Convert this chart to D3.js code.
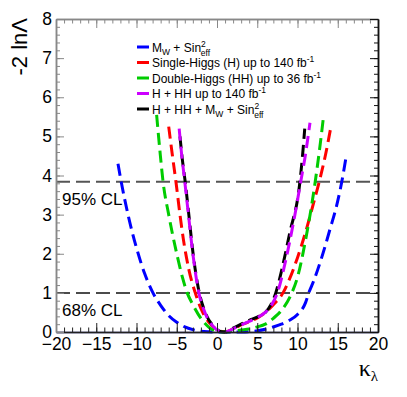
<!DOCTYPE html>
<html>
<head>
<meta charset="utf-8">
<script src="https://cdn.jsdelivr.net/npm/d3@7"></script>
<style>
  body { margin: 0; background: #fff; }
  svg { display: block; font-family: "Liberation Sans", Arial, Helvetica, sans-serif; }
</style>
</head>
<body>
<div id="chart"></div>
<script>
// kappa_lambda scan points and -2 ln(Lambda) values
const kappaMw = [-12.3, -11.9, -11, -10, -9, -8, -7, -6, -5, -4, -3, -2, -1, 0, 1, 2, 3, 4, 5, 6, 7, 8, 9, 10, 11, 11.4, 12, 13, 14, 15, 15.5, 16];
const nllMw   = [4.3, 3.84, 2.95, 2.15, 1.5, 1.02, 0.68, 0.42, 0.25, 0.13, 0.06, 0.02, 0.005, 0, 0, 0, 0.002, 0.01, 0.03, 0.07, 0.13, 0.2, 0.3, 0.45, 0.75, 1.0, 1.3, 1.9, 2.6, 3.35, 3.84, 4.43];

const kappaH = [-6.0, -5.5, -5.1, -4.6, -4.2, -3.5, -2.7, -2, -1, 0, 1, 2, 3, 4, 5, 6, 7, 8.2, 9, 10, 11, 12, 12.7, 13.5, 14.2];
const nllH   = [5.25, 4.45, 3.84, 3.0, 2.4, 1.6, 1.0, 0.6, 0.25, 0.06, 0, 0.08, 0.18, 0.26, 0.36, 0.5, 0.7, 1.0, 1.35, 1.9, 2.55, 3.3, 3.84, 4.55, 5.3];

const kappaHH = [-7.5, -7.1, -6.7, -6, -5, -4.3, -3.7, -3, -2, -1, 0, 1, 2, 3, 4, 5, 6, 7, 8, 9.3, 10, 11, 12.2, 12.7, 13.2];
const nllHH   = [5.55, 4.65, 3.84, 3.0, 2.0, 1.4, 1.0, 0.7, 0.35, 0.12, 0.02, 0, 0.02, 0.05, 0.08, 0.13, 0.2, 0.35, 0.55, 1.0, 1.4, 2.35, 3.84, 4.6, 5.45];

const kappaComb = [-4.7, -4.4, -4.0, -3.6, -3, -2.3, -1.5, -0.5, 0.5, 1, 2, 3, 4, 5, 6, 6.8, 7.5, 8.5, 9.5, 10.4, 11, 11.55];
const nllComb   = [5.2, 4.55, 3.84, 3.1, 2.0, 1.05, 0.5, 0.15, 0.01, 0, 0.08, 0.18, 0.27, 0.37, 0.5, 0.7, 1.0, 1.8, 2.8, 3.84, 4.55, 5.35];

const kappaAll = [-4.6, -4.3, -3.95, -3.5, -3, -2.3, -1.5, -0.5, 0.5, 1, 2, 3, 4, 5, 6, 6.7, 7.3, 8, 9, 10.3, 10.6, 10.9];
const nllAll   = [5.0, 4.4, 3.84, 3.0, 2.05, 1.1, 0.52, 0.16, 0.01, 0, 0.1, 0.2, 0.3, 0.38, 0.5, 0.7, 1.0, 1.55, 2.5, 3.84, 4.45, 5.2];

const clLevels = [3.84, 1];
const clLabels = ["95% CL", "68% CL"];

const xTicks = [-20, -15, -10, -5, 0, 5, 10, 15, 20];
const yTicks = [0, 1, 2, 3, 4, 5, 6, 7, 8];

const series = [
  { k: kappaMw,   v: nllMw,   color: "#0000ff" },
  { k: kappaH,    v: nllH,    color: "#ff0000" },
  { k: kappaHH,   v: nllHH,   color: "#00cc00" },
  { k: kappaComb, v: nllComb, color: "#cc00ff" },
  { k: kappaAll,  v: nllAll,  color: "#000000" }
];
// black goes under the violet one
const drawOrder = [0, 1, 2, 4, 3];

const W = 407, H = 397;
const m = { left: 56, right: 378, top: 19, bottom: 332 };

const svg = d3.select("#chart").append("svg")
  .attr("width", W)
  .attr("height", H);

const x = d3.scaleLinear().domain([-20, 20]).range([m.left, m.right]);
const y = d3.scaleLinear().domain([0, 8]).range([m.bottom, m.top]);

// confidence level lines
clLevels.forEach((lv, i) => {
  svg.append("line")
    .attr("x1", x(-20)).attr("x2", x(20))
    .attr("y1", y(lv)).attr("y2", y(lv))
    .attr("stroke", i === 0 ? "#555" : "#111")
    .attr("stroke-width", i === 0 ? 2 : 1.5)
    .attr("stroke-dasharray", "14,6");
  svg.append("text")
    .attr("x", 62)
    .attr("y", y(lv) + 23)
    .attr("font-size", 17)
    .text(clLabels[i]);
});

// curves
const line = d3.line()
  .x(d => x(d[0]))
  .y(d => y(d[1]))
  .curve(d3.curveMonotoneX);

drawOrder.forEach(i => {
  const s = series[i];
  svg.append("path")
    .datum(d3.zip(s.k, s.v))
    .attr("fill", "none")
    .attr("stroke", s.color)
    .attr("stroke-width", 3)
    .attr("stroke-dasharray", "12,6")
    .attr("d", line);
});

// axes: major + minor ticks pointing inward
function styleAxis(g, col) {
  g.selectAll("path").attr("stroke", col).attr("stroke-width", 1.5);
  g.selectAll("line").attr("stroke", col);
  g.selectAll("text").attr("fill", "#000").attr("font-size", 17.5)
    .attr("font-family", "Liberation Sans, Arial, sans-serif");
}

const xb = svg.append("g").attr("transform", `translate(0,${m.bottom})`)
  .call(d3.axisBottom(x).tickValues(xTicks).tickSize(-9).tickPadding(6).tickSizeOuter(0));
styleAxis(xb, "#222");
xb.select("path").attr("stroke", "#1a1a70");
const xbm = svg.append("g").attr("transform", `translate(0,${m.bottom})`)
  .call(d3.axisBottom(x).tickValues(d3.range(-20, 21, 1)).tickSize(-4.5).tickFormat("").tickSizeOuter(0));
styleAxis(xbm, "#222");

const xt = svg.append("g").attr("transform", `translate(0,${m.top})`)
  .call(d3.axisTop(x).tickValues(xTicks).tickSize(-9).tickFormat("").tickSizeOuter(0));
styleAxis(xt, "#888");
const xtm = svg.append("g").attr("transform", `translate(0,${m.top})`)
  .call(d3.axisTop(x).tickValues(d3.range(-20, 21, 1)).tickSize(-4.5).tickFormat("").tickSizeOuter(0));
styleAxis(xtm, "#888");

const yl = svg.append("g").attr("transform", `translate(${m.left},0)`)
  .call(d3.axisLeft(y).tickValues(yTicks).tickSize(-8).tickPadding(4).tickFormat(d3.format("d")).tickSizeOuter(0));
styleAxis(yl, "#888");
const ylm = svg.append("g").attr("transform", `translate(${m.left},0)`)
  .call(d3.axisLeft(y).tickValues(d3.range(0, 8.01, 0.2)).tickSize(-4).tickFormat("").tickSizeOuter(0));
styleAxis(ylm, "#888");

const yr = svg.append("g").attr("transform", `translate(${m.right},0)`)
  .call(d3.axisRight(y).tickValues(yTicks).tickSize(-8).tickFormat("").tickSizeOuter(0));
styleAxis(yr, "#111");
const yrm = svg.append("g").attr("transform", `translate(${m.right},0)`)
  .call(d3.axisRight(y).tickValues(d3.range(0, 8.01, 0.2)).tickSize(-4).tickFormat("").tickSizeOuter(0));
styleAxis(yrm, "#111");

// axis titles
svg.append("text")
  .attr("transform", `translate(27,18) rotate(-90)`)
  .attr("text-anchor", "end")
  .attr("font-size", 22)
  .text("-2 lnΛ");

const xTitle = svg.append("text")
  .attr("x", 378)
  .attr("y", 376)
  .attr("text-anchor", "end")
  .attr("font-family", "Liberation Serif, Times New Roman, serif")
  .attr("font-size", 24);
xTitle.append("tspan").text("κ");
xTitle.append("tspan").attr("font-size", 15).attr("dy", 5).text("λ");

// legend
const legend = svg.append("g");
const legY = [47, 62.5, 78, 93.5, 109];
const legendRows = [
  [["M", 0], ["W", 1], [" + Sin", 0], ["2", 2], ["eff", 3]],
  [["Single-Higgs (H) up to 140 fb", 0], ["-1", 2]],
  [["Double-Higgs (HH) up to 36 fb", 0], ["-1", 2]],
  [["H + HH up to 140 fb", 0], ["-1", 2]],
  [["H + HH + M", 0], ["W", 1], [" + Sin", 0], ["2", 2], ["eff", 3]]
];

legendRows.forEach((row, i) => {
  const cy = legY[i];
  legend.append("line")
    .attr("x1", 137).attr("x2", 149)
    .attr("y1", cy).attr("y2", cy)
    .attr("stroke", series[i].color)
    .attr("stroke-width", 3);
  const t = legend.append("text")
    .attr("x", 152)
    .attr("y", cy + 4.5)
    .attr("font-size", 12);
  let shift = 0;
  row.forEach(([str, kind]) => {
    const ts = t.append("tspan").text(str);
    if (kind === 0) {
      ts.attr("dy", -shift); shift = 0;
    } else if (kind === 1) {
      ts.attr("font-size", 8.5).attr("dy", 3 - shift); shift = 3;
    } else if (kind === 2) {
      ts.attr("font-size", 8.5).attr("dy", -5 - shift); shift = -5;
    } else {
      ts.attr("font-size", 8.5).attr("dx", -5).attr("dy", 4 - shift); shift = 4;
    }
  });
});
</script>
</body>
</html>
